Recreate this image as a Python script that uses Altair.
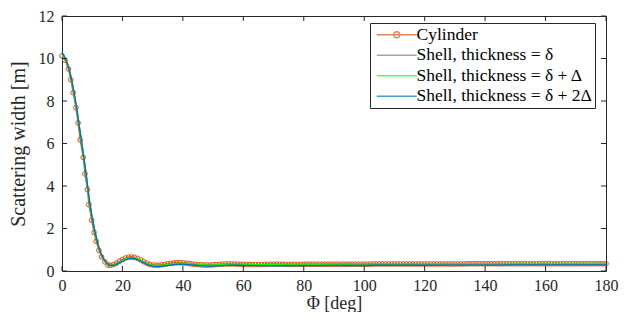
import altair as alt
import pandas as pd

# ---------------- data ----------------
series_names = ["Cylinder", "Shell, thickness = δ", "Shell, thickness = δ + Δ", "Shell, thickness = δ + 2Δ"]
series_colors = ["#D95319", "#808080", "#00FF00", "#0072BD"]

cyl_phi = [0, 1.0, 2.1, 2.9, 3.7, 4.6, 5.3, 6.0, 7.0, 7.6, 8.4, 8.9, 9.8, 10.6, 11.3, 12.2, 13.1, 14.2, 15.2] + list(range(16, 181))
cyl_val = [10.12, 9.92, 9.51, 9.0, 8.39, 7.69, 6.97, 6.17, 5.35, 4.57, 3.83, 3.12, 2.39, 1.81, 1.40, 0.97, 0.66, 0.43, 0.28,
           0.27, 0.30, 0.37, 0.46, 0.54, 0.61, 0.65, 0.66, 0.64, 0.59, 0.52, 0.44, 0.37, 0.31, 0.28,
           0.27, 0.27, 0.29, 0.31, 0.34, 0.36, 0.38, 0.39, 0.39, 0.38,
           0.37, 0.35, 0.33, 0.31, 0.30, 0.29, 0.28, 0.28, 0.28, 0.29,
           0.30, 0.31, 0.32, 0.33, 0.33, 0.33, 0.33, 0.32, 0.32, 0.31,
           0.31, 0.31, 0.30, 0.30, 0.30, 0.30, 0.31, 0.31, 0.32, 0.32,
           0.32, 0.32, 0.32, 0.31, 0.31, 0.31, 0.31, 0.31, 0.31, 0.32,
           0.32, 0.32, 0.32, 0.32, 0.32, 0.32, 0.32, 0.32, 0.32, 0.32,
           0.32, 0.32, 0.32, 0.32, 0.32, 0.32, 0.32, 0.32, 0.32, 0.32,
           0.32, 0.32, 0.33, 0.33, 0.33, 0.33, 0.33, 0.33, 0.33, 0.33,
           0.33, 0.33, 0.33, 0.33, 0.33, 0.33, 0.33, 0.33, 0.33, 0.33,
           0.33, 0.33, 0.33, 0.33, 0.33, 0.33, 0.33, 0.33, 0.33, 0.33,
           0.33, 0.33, 0.33, 0.34, 0.34, 0.34, 0.34, 0.34, 0.34, 0.34,
           0.34, 0.34, 0.34, 0.34, 0.34, 0.34, 0.34, 0.34, 0.34, 0.34,
           0.34, 0.34, 0.34, 0.34, 0.34, 0.34, 0.34, 0.34, 0.34, 0.34,
           0.34, 0.34, 0.34, 0.34, 0.34, 0.34, 0.34, 0.34, 0.34, 0.34,
           0.34, 0.34, 0.34, 0.34, 0.34, 0.34, 0.34, 0.34, 0.34, 0.34]

line_phi = list(range(0, 31)) + list(range(32, 61, 2)) + list(range(65, 181, 5))

gray_val = [10.25, 10.03, 9.68, 9.12, 8.38, 7.52, 6.52, 5.57, 4.52, 3.38, 2.48, 1.78, 1.19, 0.79, 0.51, 0.35,
            0.26, 0.26, 0.31, 0.39, 0.48, 0.55, 0.60, 0.62, 0.60, 0.55, 0.48, 0.40, 0.33, 0.28, 0.25,
            0.24, 0.26, 0.30, 0.33, 0.34, 0.32, 0.29, 0.27, 0.25, 0.25, 0.27, 0.28, 0.29, 0.29, 0.28,
            0.28, 0.27, 0.27, 0.28, 0.28, 0.29, 0.29, 0.29, 0.30, 0.30, 0.30, 0.30, 0.31, 0.31, 0.31, 0.31,
            0.31, 0.31, 0.32, 0.32, 0.32, 0.32, 0.32, 0.32]
green_val = [10.15, 10.00, 9.65, 9.10, 8.35, 7.50, 6.50, 5.55, 4.50, 3.35, 2.45, 1.75, 1.17, 0.78, 0.50, 0.34,
             0.27, 0.27, 0.32, 0.41, 0.50, 0.57, 0.62, 0.64, 0.62, 0.57, 0.50, 0.42, 0.35, 0.30, 0.27,
             0.26, 0.29, 0.33, 0.36, 0.37, 0.35, 0.32, 0.30, 0.28, 0.28, 0.30, 0.31, 0.32, 0.32, 0.31,
             0.31, 0.31, 0.32, 0.32, 0.33, 0.33, 0.33, 0.34, 0.34, 0.34, 0.34, 0.35, 0.35, 0.35, 0.35, 0.35,
             0.35, 0.36, 0.36, 0.36, 0.36, 0.36, 0.36, 0.36]
blue_val = [10.30, 10.05, 9.70, 9.15, 8.40, 7.55, 6.55, 5.60, 4.55, 3.40, 2.50, 1.80, 1.20, 0.80, 0.52, 0.35,
            0.26, 0.25, 0.30, 0.38, 0.46, 0.53, 0.58, 0.60, 0.58, 0.53, 0.46, 0.38, 0.31, 0.26, 0.23,
            0.22, 0.24, 0.28, 0.31, 0.32, 0.30, 0.27, 0.24, 0.23, 0.23, 0.24, 0.26, 0.27, 0.27, 0.26,
            0.25, 0.24, 0.24, 0.25, 0.25, 0.26, 0.26, 0.26, 0.27, 0.27, 0.27, 0.27, 0.28, 0.28, 0.28, 0.28,
            0.28, 0.29, 0.29, 0.29, 0.29, 0.29, 0.29, 0.29]

x_ticks = [0, 20, 40, 60, 80, 100, 120, 140, 160, 180]
y_ticks = [0, 2, 4, 6, 8, 10, 12]

# legend symbol shapes (short line, with / without a circle marker), in symbol units
legend_shapes = ["M-1,0L7,0M3.6,0A0.6,0.6,0,1,1,2.4,0A0.6,0.6,0,1,1,3.6,0",
                 "M-1,0L7,0", "M-1,0L7,0", "M-1,0L7,0"]

cyl_df = pd.DataFrame({"phi": cyl_phi, "val": cyl_val, "series": series_names[0]})
lines_df = pd.concat([
    pd.DataFrame({"phi": line_phi, "val": gray_val, "series": series_names[1]}),
    pd.DataFrame({"phi": line_phi, "val": green_val, "series": series_names[2]}),
    pd.DataFrame({"phi": line_phi, "val": blue_val, "series": series_names[3]}),
])
all_df = pd.concat([cyl_df, lines_df])
xt_df = pd.DataFrame({"phi": x_ticks})
yt_df = pd.DataFrame({"val": y_ticks})

FONT = "Liberation Serif"
INK = "#262626"
W, H = 544, 255

xscale = alt.Scale(domain=[0, 180], nice=False, zero=False)
yscale = alt.Scale(domain=[0, 12], nice=False, zero=False)
cscale = alt.Scale(domain=series_names, range=series_colors)
sscale = alt.Scale(domain=series_names, range=legend_shapes)

X = alt.X("phi:Q", scale=xscale,
          axis=alt.Axis(title="Φ [deg]", values=x_ticks, ticks=False, grid=False, domain=False,
                        labelPadding=6, titlePadding=1, labelFlush=False,
                        labelFont=FONT, labelFontSize=16, labelColor=INK,
                        titleFont=FONT, titleFontSize=18, titleColor=INK, titleFontWeight="normal"))
Y = alt.Y("val:Q", scale=yscale,
          axis=alt.Axis(title="Scattering width [m]", values=y_ticks, ticks=False, grid=False, domain=False,
                        labelPadding=8, titlePadding=10, labelFlush=False,
                        labelFont=FONT, labelFontSize=16, labelColor=INK,
                        titleFont=FONT, titleFontSize=20, titleColor=INK, titleFontWeight="normal"))

legend = alt.Legend(title=None, orient="none", legendX=308, legendY=7,
                    labelFont=FONT, labelFontSize=17.5, labelColor="#000000", labelLimit=400)

# invisible layer that only feeds the legend (colour + shape)
legend_feed = alt.Chart(all_df).transform_filter("false").mark_point(filled=False).encode(
    x=X, y=Y,
    color=alt.Color("series:N", scale=cscale, legend=legend),
    shape=alt.Shape("series:N", scale=sscale, legend=legend),
)

cyl_line = alt.Chart(cyl_df).mark_line(strokeWidth=1.2, color=series_colors[0]).encode(x=X, y=Y)
cyl_pts = alt.Chart(cyl_df).mark_point(shape="circle", filled=False, size=22, strokeWidth=1,
                                        color=series_colors[0], opacity=1).encode(x=X, y=Y)
shell_lines = alt.Chart(lines_df).mark_line(strokeWidth=1.3).encode(
    x=X, y=Y, color=alt.Color("series:N", scale=cscale, legend=legend),
    order=alt.Order("phi:Q"),
    detail="series:N",
)

tick_b = alt.Chart(xt_df).mark_rule(color=INK, strokeWidth=1).encode(
    x=alt.X("phi:Q", scale=xscale), y=alt.value(H), y2=alt.value(H - 5))
tick_t = alt.Chart(xt_df).mark_rule(color=INK, strokeWidth=1).encode(
    x=alt.X("phi:Q", scale=xscale), y=alt.value(0), y2=alt.value(5))
tick_l = alt.Chart(yt_df).mark_rule(color=INK, strokeWidth=1).encode(
    y=alt.Y("val:Q", scale=yscale), x=alt.value(0), x2=alt.value(5))
tick_r = alt.Chart(yt_df).mark_rule(color=INK, strokeWidth=1).encode(
    y=alt.Y("val:Q", scale=yscale), x=alt.value(W), x2=alt.value(W - 5))

chart = alt.layer(
    cyl_line, cyl_pts, shell_lines, legend_feed, tick_b, tick_t, tick_l, tick_r
).resolve_scale(color="shared", shape="shared").properties(
    width=W, height=H,
    autosize=alt.AutoSizeParams(type="none"),
    padding={"left": 54, "top": 8, "right": 20, "bottom": 41},
    background="white",
).configure_view(
    stroke=INK, strokeWidth=1
).configure_legend(
    strokeColor=INK, fillColor="white", padding=3, cornerRadius=0,
    symbolSize=100, symbolStrokeWidth=1.3, rowPadding=1.5, labelOffset=26, labelLimit=400,
)

chart.save("out.html", embed_options={"renderer": "svg", "actions": False})
